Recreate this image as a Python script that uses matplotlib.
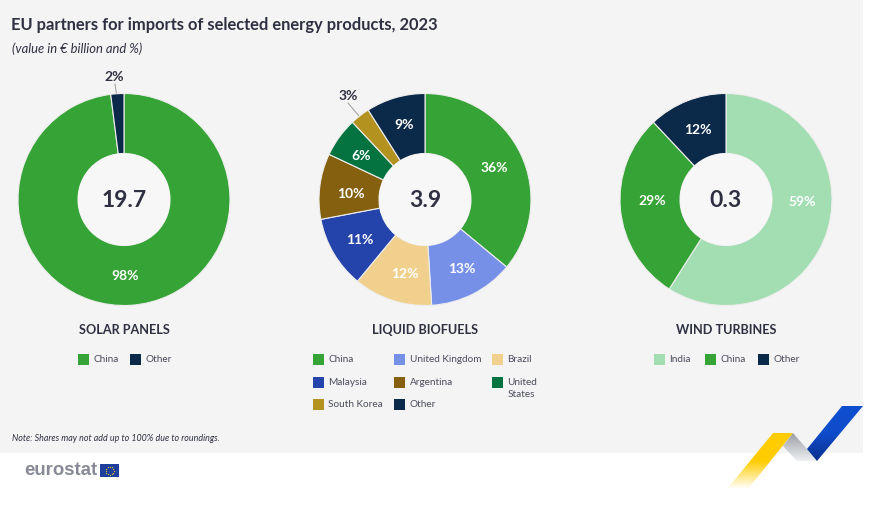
import matplotlib
matplotlib.use('Agg')
import matplotlib.pyplot as plt
import numpy as np
from matplotlib.colors import LinearSegmentedColormap
from matplotlib.patches import Polygon, Rectangle

plt.rcParams['font.family'] = ['Lato', 'DejaVu Sans']

W, H = 877, 506

GREEN = '#35a335'
NAVY = '#0b2948'
INK = '#2f3142'

solar_labels = ['China', 'Other']
solar_values = [98, 2]
biofuel_labels = ['China', 'United Kingdom', 'Brazil', 'Malaysia', 'Argentina',
                  'United\nStates', 'South Korea', 'Other']
biofuel_values = [36, 13, 12, 11, 10, 6, 3, 9]
wind_labels = ['India', 'China', 'Other']
wind_values = [59, 29, 12]

solar_colors = [GREEN, NAVY]
biofuel_colors = [GREEN, '#7690e8', '#f0d08c', '#2443ab', '#84600f', '#04733f', '#b3921f', NAVY]
wind_colors = ['#a3deb3', GREEN, NAVY]

totals = ['19.7', '3.9', '0.3']
titles = ['SOLAR PANELS', 'LIQUID BIOFUELS', 'WIND TURBINES']


def pixel_axes(fig):
    ax = fig.add_axes([0, 0, 1, 1])
    ax.set_xlim(0, W)
    ax.set_ylim(H, 0)
    ax.axis('off')
    return ax


def donut(fig, cx, values, colors, total, small=(), nudge=None):
    cy, r = 200.5, 106
    ax = fig.add_axes([(cx - r) / W, 1 - (cy + r) / H, 2 * r / W, 2 * r / H])
    ax.pie(values, colors=colors, startangle=90, counterclock=False, radius=1,
           wedgeprops=dict(width=60 / 106, edgecolor='#eeeeee', linewidth=0.8))
    ax.add_patch(plt.Circle((0, 0), 46 / 106, facecolor='#f7f7f8', edgecolor='none', zorder=2))
    ax.set_xlim(-1, 1)
    ax.set_ylim(-1, 1)
    ax.set_aspect('equal')
    ax.axis('off')
    ax.patch.set_alpha(0)
    # percentage labels in the ring
    ang = 0
    for i, (v, c) in enumerate(zip(values, colors)):
        mid = np.deg2rad(90 - (ang + v / 2) * 3.6)
        ang += v
        if v in small:
            continue
        dx, dy = nudge[i] if nudge else (0, 0)
        ax.text(0.72 * np.cos(mid) + dx / r, 0.72 * np.sin(mid) - dy / r, f'{v}%', ha='center', va='center',
                color='white', fontsize=10, fontweight='bold', zorder=3)
    ax.text(0, 0, total, ha='center', va='center', color=INK, fontsize=16.5, fontweight='bold', zorder=3)


def legend(ax, x, y, label, color):
    ax.add_patch(Rectangle((x, y - 5.5), 11, 11, facecolor=color, edgecolor='none'))
    ax.text(x + 15.5, y - 5, label, ha='left', va='top', color='#4a4c5c', fontsize=7.2,
            linespacing=1.4)


def gradient_poly(ax, pts, colors, box):
    # image clipped to a polygon, for the ribbon in the corner
    cmap = LinearSegmentedColormap.from_list('rib', colors)
    grad = np.linspace(0, 1, 128).reshape(-1, 1)
    im = ax.imshow(grad, extent=box, cmap=cmap, aspect='auto', zorder=3)
    im.set_clip_path(Polygon(pts, transform=ax.transData))


fig = plt.figure(figsize=(W / 100, H / 100), dpi=100, facecolor='white')
bg = pixel_axes(fig)
bg.add_patch(Rectangle((0, 0), 863, 453.5, facecolor='#f4f4f4', edgecolor='none'))

bg.text(11, 25, 'EU partners for imports of selected energy products, 2023', ha='left', va='center',
        color=INK, fontsize=11.9, fontweight='bold')
bg.text(12, 49, '(value in € billion and %)', ha='left', va='center', color=INK, fontsize=9.4,
        style='italic')

donut(fig, 124, solar_values, solar_colors, totals[0], small=(2,), nudge=[(-4, -1), (0, 0)])
donut(fig, 425, biofuel_values, biofuel_colors, totals[1], small=(3,),
      nudge=[(0, 0), (2, 0), (3, 1), (0, 1), (2, 3), (-2, 0), (0, 0), (0, -2)])
donut(fig, 726, wind_values, wind_colors, totals[2], nudge=[(3, -20), (2, -7), (0, 0)])

# outside labels with leader lines
bg.text(114, 77, f'{solar_values[1]}%', ha='center', va='center', color=INK, fontsize=10, fontweight='bold')
bg.plot([115, 116.5], [85, 95], color='#9a9a9a', lw=0.7)
bg.text(348, 96, f'{biofuel_values[6]}%', ha='center', va='center', color=INK, fontsize=10, fontweight='bold')
bg.plot([348, 359], [104, 117], color='#9a9a9a', lw=0.7)

for x, t in zip([124, 425, 726], titles):
    bg.text(x, 330, t, ha='center', va='center', color=INK, fontsize=9.1, fontweight='bold')

legend(bg, 78, 360, solar_labels[0], solar_colors[0])
legend(bg, 130, 360, solar_labels[1], solar_colors[1])

bio_x = [313, 394, 492, 313, 394, 492, 313, 394]
bio_y = [360, 360, 360, 383, 383, 383, 405, 405]
for x, y, lab, c in zip(bio_x, bio_y, biofuel_labels, biofuel_colors):
    legend(bg, x, y, lab, c)

legend(bg, 654, 360, wind_labels[0], wind_colors[0])
legend(bg, 705, 360, wind_labels[1], wind_colors[1])
legend(bg, 758, 360, wind_labels[2], wind_colors[2])

bg.text(12, 439, 'Note: Shares may not add up to 100% due to roundings.', ha='left', va='center',
        color=INK, fontsize=6.4, style='italic')

# eurostat logo
bg.text(24, 471, 'eurostat', ha='left', va='center', color='#878a96', fontsize=13.4,
        family=['Liberation Sans', 'DejaVu Sans'], fontweight='bold')
bg.add_patch(Rectangle((100, 465), 19, 13, facecolor='#1f3f9f', edgecolor='none'))
star_a = np.linspace(0, 2 * np.pi, 12, endpoint=False)
bg.scatter(109.5 + 4 * np.cos(star_a), 471.5 + 4 * np.sin(star_a), s=0.8, color='#e8c91a', linewidths=0, zorder=3)

# ribbon in the corner
gradient_poly(bg, [(773, 434), (793, 434), (748, 490), (727, 490)],
              ['#ffcc00', '#ffcc00', '#ffffff'], (720, 800, 490, 434))
gradient_poly(bg, [(793, 434), (807, 450), (817, 462), (797, 462), (783, 447)],
              ['#9a9da3', '#eef0f2'], (780, 820, 462, 434))
gradient_poly(bg, [(842, 407), (863, 407), (817, 462), (807, 450)],
              ['#0f4fd0', '#0f4ccb', '#0a2f8c'], (805, 863, 462, 407))
bg.set_xlim(0, W)
bg.set_ylim(H, 0)

fig.savefig('out.png', dpi=100)
